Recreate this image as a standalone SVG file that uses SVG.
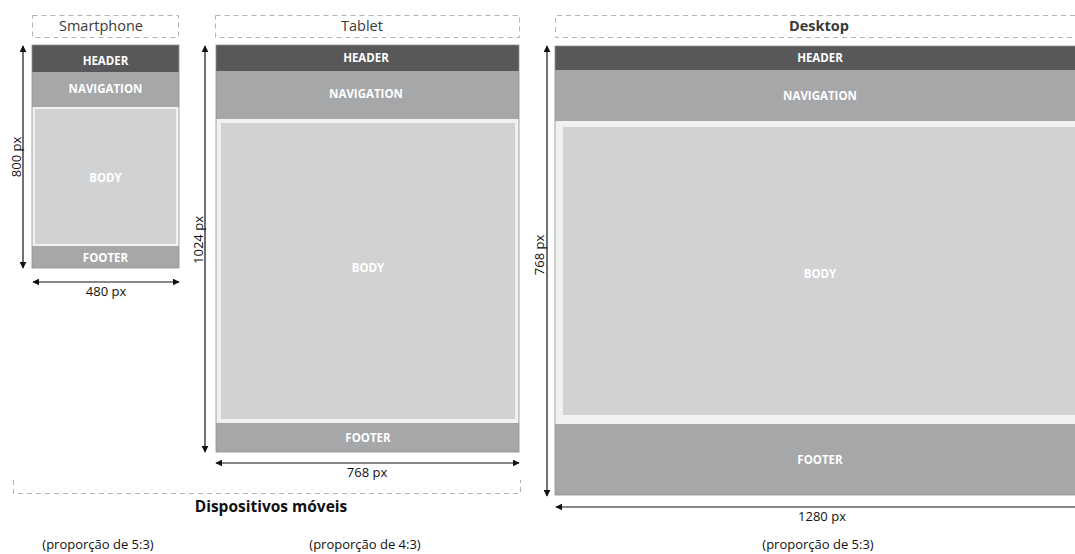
<svg xmlns="http://www.w3.org/2000/svg" width="1075" height="554" viewBox="0 0 1075 554">
  <style>
    .title { font-family: "Open Sans", "Noto Sans", sans-serif; font-size: 14.5px; fill: #3a3a3a; text-anchor: middle; }
    .title-b { font-weight: bold; }
    .blk { font-family: "Open Sans", "Noto Sans", sans-serif; font-size: 11.5px; font-weight: bold; fill: #ffffff; text-anchor: middle; dominant-baseline: central; }
    .dim { font-family: "Open Sans", "Noto Sans", sans-serif; font-size: 13px; fill: #111111; text-anchor: middle; }
    .note { font-family: "Open Sans", "Noto Sans", sans-serif; font-size: 13px; fill: #111111; text-anchor: middle; }
    .group { font-family: "Open Sans", "Noto Sans", sans-serif; font-size: 15.5px; font-weight: bold; fill: #111111; text-anchor: middle; }
    .dash { fill: none; stroke: #b3b3b3; stroke-width: 1; stroke-dasharray: 5 4; }
    .hdr { fill: #58585a; }
    .nav { fill: #a6a7a9; }
    .ftr { fill: #a6a7a9; }
    .frame { fill: #f0f1f1; }
    .body { fill: #d1d2d4; }
    .edge { fill: none; stroke: #8e8f91; stroke-width: 0.8; }
    .arrow { stroke: #111111; stroke-width: 1.2; fill: none; marker-start: url(#head); marker-end: url(#head); }
  </style>
  <defs>
    <marker id="head" viewBox="0 0 10 10" refX="9" refY="5" markerWidth="7" markerHeight="7" orient="auto-start-reverse" markerUnits="userSpaceOnUse">
      <path d="M0,0 L10,5 L0,10 z" fill="#111111"/>
    </marker>
  </defs>

  <rect width="1075" height="554" fill="#ffffff"/>

  <!-- Smartphone layout -->
  <g id="smartphone">
    <rect class="dash" x="32.5" y="15.5" width="146" height="22"/>
    <text class="title" x="101" y="31">Smartphone</text>
    <rect class="hdr" x="32" y="45" width="147" height="27"/>
    <text class="blk" x="105.5" y="60">HEADER</text>
    <rect class="nav" x="32" y="72" width="147" height="35"/>
    <text class="blk" x="105.5" y="88.5">NAVIGATION</text>
    <rect class="frame" x="32" y="107" width="147" height="139"/>
    <rect class="body" x="35" y="109" width="141" height="135"/>
    <text class="blk" x="105.5" y="177.5">BODY</text>
    <rect class="ftr" x="32" y="246" width="147" height="22"/>
    <text class="blk" x="105.5" y="257">FOOTER</text>
    <rect class="edge" x="32" y="45" width="147" height="223"/>
  </g>

  <!-- Tablet layout -->
  <g id="tablet">
    <rect class="dash" x="215.5" y="15.5" width="304" height="22"/>
    <text class="title" x="362" y="31">Tablet</text>
    <rect class="hdr" x="216" y="45" width="303" height="26"/>
    <text class="blk" x="366" y="57">HEADER</text>
    <rect class="nav" x="216" y="71" width="303" height="48"/>
    <text class="blk" x="366" y="93">NAVIGATION</text>
    <rect class="frame" x="216" y="119" width="303" height="304"/>
    <rect class="body" x="221" y="123" width="294" height="296"/>
    <text class="blk" x="368" y="267.5">BODY</text>
    <rect class="ftr" x="216" y="423" width="303" height="29"/>
    <text class="blk" x="368" y="437">FOOTER</text>
    <rect class="edge" x="216" y="45" width="303" height="407"/>
  </g>

  <!-- Desktop layout -->
  <g id="desktop">
    <path class="dash" d="M1075,15.5 H555.5 V37.5 H1075"/>
    <text class="title title-b" x="819" y="31">Desktop</text>
    <rect class="hdr" x="555" y="46" width="520" height="24"/>
    <text class="blk" x="820" y="57.5">HEADER</text>
    <rect class="nav" x="555" y="70" width="520" height="51"/>
    <text class="blk" x="820" y="95.5">NAVIGATION</text>
    <rect class="frame" x="555" y="121" width="520" height="303"/>
    <rect class="body" x="563" y="127" width="512" height="288"/>
    <text class="blk" x="820" y="273.5">BODY</text>
    <rect class="ftr" x="555" y="424" width="520" height="71"/>
    <text class="blk" x="820" y="459.5">FOOTER</text>
    <path class="edge" d="M1075,46 H555 V495 H1075"/>
  </g>

  <!-- Mobile devices grouping -->
  <g id="mobile-group">
    <path class="dash" d="M13.5,480 V493.5 H520.5 V480"/>
    <text class="group" x="271" y="512">Dispositivos móveis</text>
  </g>

  <!-- Dimension arrows -->
  <g id="connectors">
    <line class="arrow" x1="23" y1="46" x2="23" y2="268"/>
    <line class="arrow" x1="33" y1="282" x2="179" y2="282"/>
    <line class="arrow" x1="205" y1="46" x2="205" y2="452"/>
    <line class="arrow" x1="216" y1="463" x2="519" y2="463"/>
    <line class="arrow" x1="547" y1="46" x2="547" y2="496"/>
    <line class="arrow" x1="556" y1="507" x2="1085" y2="507"/>
  </g>

  <!-- Dimension labels -->
  <g id="dimension-labels">
    <text class="dim" transform="translate(21,157) rotate(-90)">800 px</text>
    <text class="dim" x="106" y="296">480 px</text>
    <text class="dim" transform="translate(203,240) rotate(-90)">1024 px</text>
    <text class="dim" x="367" y="477">768 px</text>
    <text class="dim" transform="translate(544,255) rotate(-90)">768 px</text>
    <text class="dim" x="822" y="521">1280 px</text>
  </g>

  <!-- Aspect ratio notes -->
  <g id="ratio-notes">
    <text class="note" x="98" y="549">(proporção de 5:3)</text>
    <text class="note" x="365" y="549">(proporção de 4:3)</text>
    <text class="note" x="818" y="549">(proporção de 5:3)</text>
  </g>
</svg>
